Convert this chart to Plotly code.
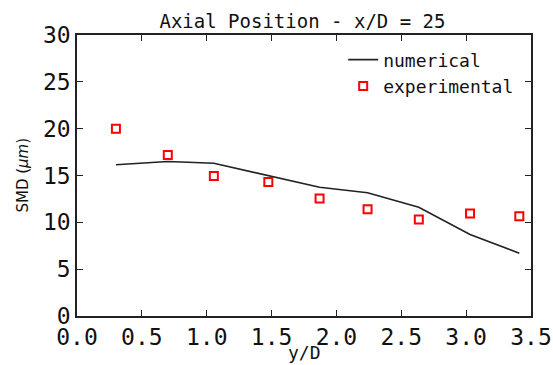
import plotly.graph_objects as go

# Radial positions (y/D) at the x/D = 25 station
y_over_d = [0.30, 0.70, 1.055, 1.475, 1.87, 2.24, 2.635, 3.03, 3.41]

# Sauter mean diameter in micrometres
smd_numerical = [16.15, 16.5, 16.3, 14.95, 13.75, 13.15, 11.6, 8.7, 6.7]
smd_experimental = [20.0, 17.2, 14.95, 14.3, 12.55, 11.4, 10.3, 10.95, 10.65]

x_ticks = [0.0, 0.5, 1.0, 1.5, 2.0, 2.5, 3.0, 3.5]
y_ticks = [0, 5, 10, 15, 20, 25, 30]

mono = "DejaVu Sans Mono"
ink = "#111111"

fig = go.Figure()
fig.add_trace(go.Scatter(
    x=y_over_d, y=smd_numerical, mode="lines", name="numerical",
    line=dict(color="#222222", width=1.6),
))
fig.add_trace(go.Scatter(
    x=y_over_d, y=smd_experimental, mode="markers", name="experimental",
    marker=dict(symbol="square-open", size=8, color="#ff0000",
                line=dict(width=2, color="#ff0000")),
))

axis_common = dict(
    showgrid=False, zeroline=False, showline=True, linecolor="#222222",
    linewidth=1.6, mirror="ticks", ticks="inside", ticklen=6, tickwidth=1,
    tickcolor="#222222", automargin=False,
    tickfont=dict(family=mono, size=23, color=ink),
)

fig.update_layout(
    width=553, height=365,
    margin=dict(l=77, r=22, t=35, b=49),
    paper_bgcolor="white", plot_bgcolor="white",
    title=dict(text="Axial Position - x/D = 25", x=0.547, xanchor="center",
               y=0.942, yanchor="middle",
               font=dict(family=mono, size=19, color=ink)),
    xaxis=dict(range=[0, 3.5], tickvals=x_ticks, tickformat=".1f", **axis_common),
    yaxis=dict(range=[0, 30], tickvals=y_ticks, **axis_common),
    legend=dict(x=0.974, xanchor="right", y=0.977, yanchor="top",
                bgcolor="rgba(0,0,0,0)", borderwidth=0,
                font=dict(family=mono, size=18, color=ink),
                itemwidth=30),
    showlegend=True,
    annotations=[
        dict(text="y/D", xref="paper", yref="paper", x=0.5, y=-0.13,
             xanchor="center", yanchor="middle", showarrow=False,
             font=dict(family=mono, size=18, color=ink)),
        dict(text="SMD (<i>μm</i>)", xref="paper", yref="paper", x=-0.121, y=0.5,
             xanchor="center", yanchor="middle", showarrow=False, textangle=-90,
             font=dict(family="DejaVu Sans", size=15, color=ink)),
    ],
)

fig.write_html("out.html")
